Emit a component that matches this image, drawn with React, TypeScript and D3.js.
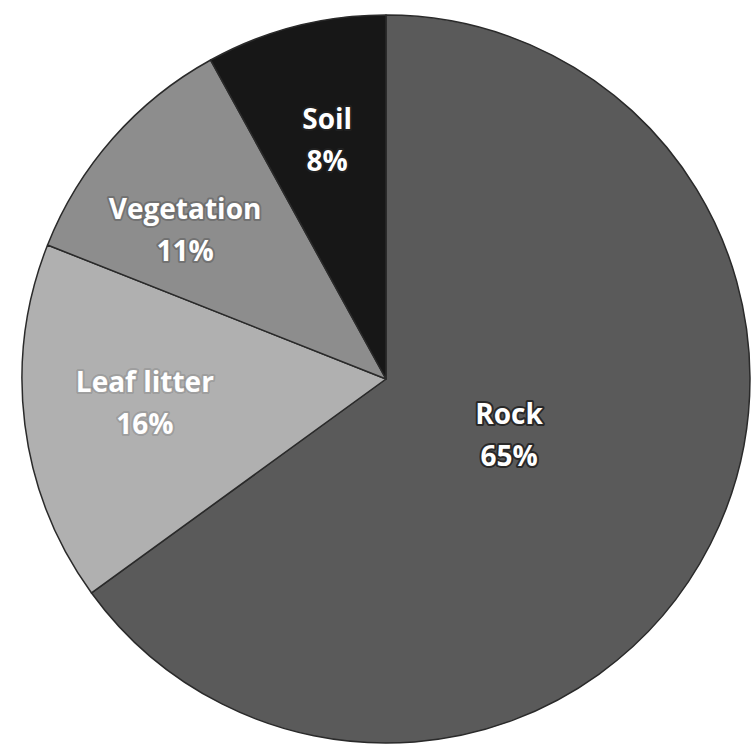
import React from "react";
import * as d3 from "d3";

const categories = ["Rock", "Leaf litter", "Vegetation", "Soil"];
const values = [65, 16, 11, 8];
const colors = ["#5a5a5a", "#b0b0b0", "#8d8d8d", "#171717"];
const labelRadiusFactor = [0.37, 0.665, 0.67, 0.65];
const labelNudgeX = [3, -1, -18, 0];
const labelNudgeY = [5, 4, 22, 0];
const haloOpacity = [0.9, 0.15, 0.25, 0.9];

const W = 755;
const H = 746;
const CX = 386;
const CY = 379;
const R = 364;

export default function App() {
  const data = categories.map((c, i) => ({ name: c, value: values[i], i }));
  const pie = d3.pie<any>().sort(null).value((d: any) => d.value);
  const arcs = pie(data);
  const arc = d3.arc<any>().innerRadius(0).outerRadius(R);
  return (
    <svg width={W} height={H} style={{ position: "absolute", left: 0, top: 0, background: "#fff" }}>
      <g transform={`translate(${CX},${CY})`}>
        {arcs.map((a, i) => (
          <path key={i} d={arc(a) || ""} fill={colors[i]} stroke="#2a2a2a" strokeWidth={1.5} strokeLinejoin="round" />
        ))}
        {arcs.map((a, i) => {
          const lr = R * labelRadiusFactor[i];
          const la = d3.arc<any>().innerRadius(lr).outerRadius(lr);
          const [x, y] = la.centroid(a);
          return (
            <g
              key={"l" + i}
              transform={`translate(${x + labelNudgeX[i]},${y + labelNudgeY[i]})`}
              fontFamily="'Open Sans', sans-serif"
              fontWeight="bold"
              fontSize={28}
              textAnchor="middle"
            >
              {[0, 1].map((k) => (
                <text
                  key={k}
                  y={k === 0 ? -21 : 21}
                  fill="#fff"
                  stroke="#222"
                  strokeOpacity={haloOpacity[i]}
                  strokeWidth={4}
                  strokeLinejoin="round"
                  style={{ paintOrder: "stroke" }}
                >
                  {k === 0 ? a.data.name : `${a.data.value}%`}
                </text>
              ))}
            </g>
          );
        })}
      </g>
    </svg>
  );
}
